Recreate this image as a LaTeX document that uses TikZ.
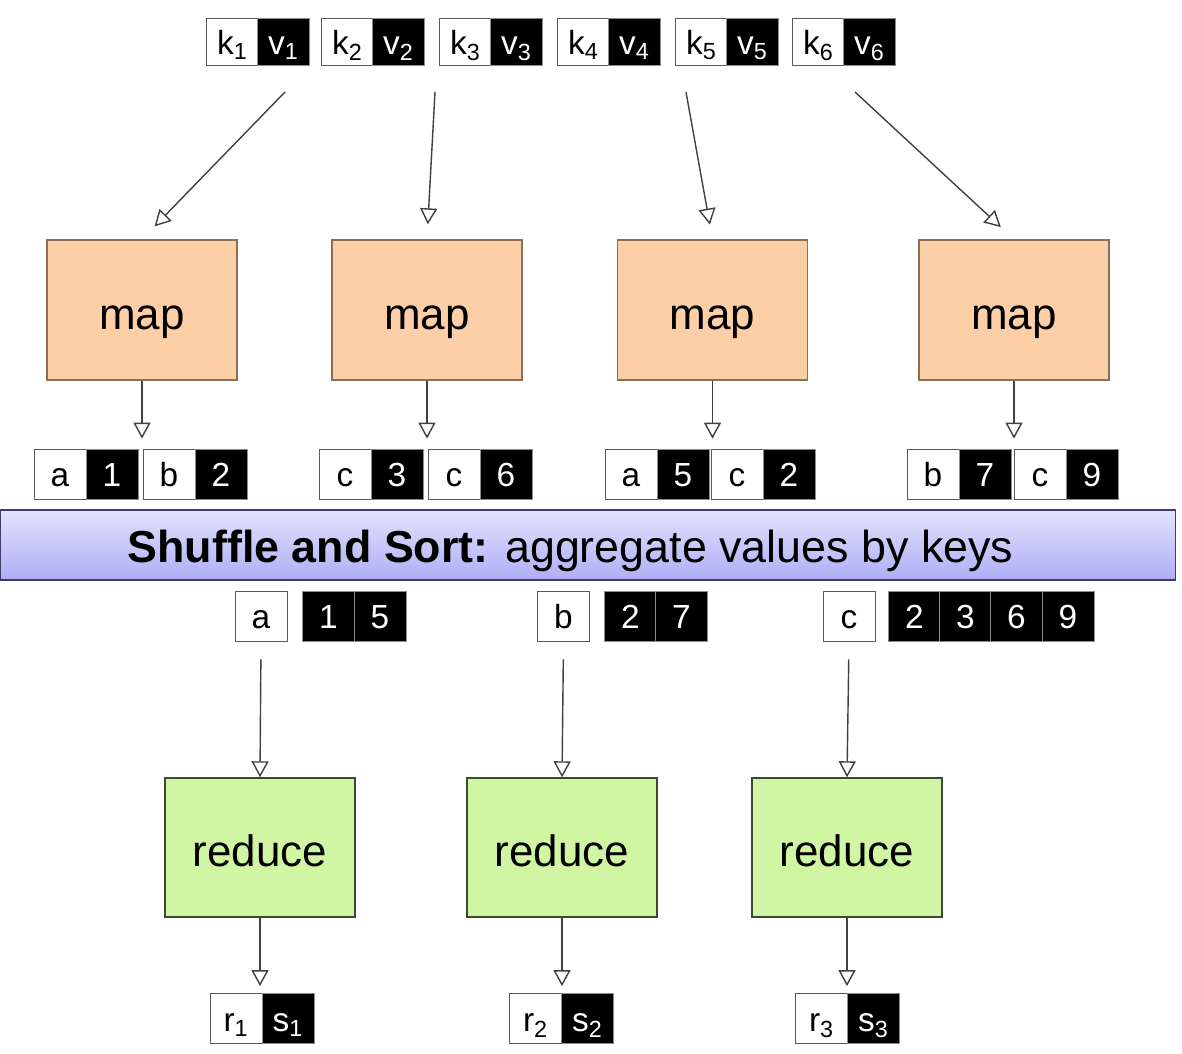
\documentclass[tikz,border=0pt]{standalone}
\usepackage{fontspec}
\setmainfont{Liberation Sans}
\usetikzlibrary{arrows.meta}

\definecolor{mapfill}{HTML}{FCCFA6}
\definecolor{mapline}{HTML}{8C6E58}
\definecolor{redfill}{HTML}{D0F6A4}
\definecolor{redline}{HTML}{3C4A30}
\definecolor{bandtop}{HTML}{E2E2FD}
\definecolor{bandbot}{HTML}{AEAEF6}
\definecolor{bandline}{HTML}{3E3E6A}

\begin{document}
\begin{tikzpicture}[scale=1,
  keycell/.style={draw=black!65,fill=white,minimum width=1.04cm,minimum height=1cm,
    inner sep=0pt,text height=14.4pt,text depth=0pt,font=\fontsize{19}{20}\selectfont},
  valcell/.style={keycell,fill=black,text=white,draw=black!45},
  mapbox/.style={draw=mapline,fill=mapfill,line width=0.8pt,minimum width=3.8cm,
    minimum height=2.8cm,text height=22pt,text depth=0pt,font=\fontsize{25}{28}\selectfont},
  redbox/.style={mapbox,draw=redline,fill=redfill,minimum height=2.78cm},
  flow/.style={draw=black!75,line width=0.8pt,
    -{Triangle[open,length=0.32cm,width=0.34cm]}}]
  \useasboundingbox (0,0) rectangle (23.64,21.06);
  % input pairs
  \node[keycell,minimum height=0.94cm] (k1) at (4.65,20.23) {k\textsubscript{1}};
  \node[valcell,minimum height=0.94cm] (v1) at (5.67,20.23) {v\textsubscript{1}};
  \node[keycell,minimum height=0.94cm] (k2) at (6.95,20.23) {k\textsubscript{2}};
  \node[valcell,minimum height=0.94cm] (v2) at (7.97,20.23) {v\textsubscript{2}};
  \node[keycell,minimum height=0.94cm] (k3) at (9.31,20.23) {k\textsubscript{3}};
  \node[valcell,minimum height=0.94cm] (v3) at (10.33,20.23) {v\textsubscript{3}};
  \node[keycell,minimum height=0.94cm] (k4) at (11.67,20.23) {k\textsubscript{4}};
  \node[valcell,minimum height=0.94cm] (v4) at (12.69,20.23) {v\textsubscript{4}};
  \node[keycell,minimum height=0.94cm] (k5) at (14.03,20.23) {k\textsubscript{5}};
  \node[valcell,minimum height=0.94cm] (v5) at (15.05,20.23) {v\textsubscript{5}};
  \node[keycell,minimum height=0.94cm] (k6) at (16.37,20.23) {k\textsubscript{6}};
  \node[valcell,minimum height=0.94cm] (v6) at (17.39,20.23) {v\textsubscript{6}};
  \coordinate (in1) at (5.70,19.22);
  \coordinate (in2) at (8.70,19.22);
  \coordinate (in3) at (13.72,19.22);
  \coordinate (in4) at (17.10,19.22);
  % mappers
  \node[mapbox] (MAP1) at (2.84,14.86) {map};
  \node[mapbox] (MAP2) at (8.54,14.86) {map};
  \node[mapbox] (MAP3) at (14.25,14.86) {map};
  \node[mapbox] (MAP4) at (20.28,14.86) {map};
  \draw[flow,shorten >=0.36cm] (in1) -- (MAP1.north);
  \draw[flow,shorten >=0.3cm]  (in2) -- (MAP2.north);
  \draw[flow,shorten >=0.3cm]  (in3) -- (MAP3.north);
  \draw[flow,shorten >=0.36cm] (in4) -- (MAP4.north);
  % intermediate pairs
  \node[keycell] (o1k) at (1.20,11.58) {a};
  \node[valcell] (o1v) at (2.24,11.58) {1};
  \node[keycell] (o2k) at (3.38,11.58) {b};
  \node[valcell] (o2v) at (4.42,11.58) {2};
  \node[keycell] (o3k) at (6.90,11.58) {c};
  \node[valcell] (o3v) at (7.94,11.58) {3};
  \node[keycell] (o4k) at (9.08,11.58) {c};
  \node[valcell] (o4v) at (10.12,11.58) {6};
  \node[keycell] (o5k) at (12.62,11.58) {a};
  \node[valcell] (o5v) at (13.66,11.58) {5};
  \node[keycell] (o6k) at (14.74,11.58) {c};
  \node[valcell] (o6v) at (15.78,11.58) {2};
  \node[keycell] (o7k) at (18.66,11.58) {b};
  \node[valcell] (o7v) at (19.70,11.58) {7};
  \node[keycell] (o8k) at (20.80,11.58) {c};
  \node[valcell] (o8v) at (21.84,11.58) {9};
  \draw[flow,shorten >=0.2cm] (MAP1.south) -- (MAP1.south |- o1k.north);
  \draw[flow,shorten >=0.2cm] (MAP2.south) -- (MAP2.south |- o3k.north);
  \draw[flow,shorten >=0.2cm] (MAP3.south) -- (MAP3.south |- o5k.north);
  \draw[flow,shorten >=0.2cm] (MAP4.south) -- (MAP4.south |- o7k.north);
  % shuffle band
  \node[draw=bandline,line width=1pt,top color=bandtop,bottom color=bandbot,
    minimum width=23.5cm,minimum height=1.4cm,text height=20pt,text depth=0pt,
    font=\fontsize{25.5}{28}\selectfont]
    (SHUF) at (11.76,10.16) {\textbf{Shuffle and Sort:} aggregate values by keys\hspace*{0.7cm}};
  % grouped values
  \node[keycell] (ga)  at (5.22,8.74) {a};
  \node[valcell] (ga1) at (6.57,8.74) {1};
  \node[valcell] (ga5) at (7.60,8.74) {5};
  \node[keycell] (gb)  at (11.27,8.74) {b};
  \node[valcell] (gb2) at (12.61,8.74) {2};
  \node[valcell] (gb7) at (13.63,8.74) {7};
  \node[keycell] (gc)  at (16.98,8.74) {c};
  \node[valcell] (gc2) at (18.29,8.74) {2};
  \node[valcell] (gc3) at (19.31,8.74) {3};
  \node[valcell] (gc6) at (20.33,8.74) {6};
  \node[valcell] (gc9) at (21.36,8.74) {9};
  % reducers
  \node[redbox] (RED1) at (5.20,4.11) {reduce};
  \node[redbox] (RED2) at (11.24,4.11) {reduce};
  \node[redbox] (RED3) at (16.94,4.11) {reduce};
  \draw[flow,shorten <=0.36cm] (ga.south) -- (RED1.north);
  \draw[flow,shorten <=0.36cm] (gb.south) -- (RED2.north);
  \draw[flow,shorten <=0.36cm] (gc.south) -- (RED3.north);
  % outputs
  \node[keycell] (r1) at (4.72,0.69) {r\textsubscript{1}};
  \node[valcell] (s1) at (5.76,0.69) {s\textsubscript{1}};
  \node[keycell] (r2) at (10.71,0.69) {r\textsubscript{2}};
  \node[valcell] (s2) at (11.75,0.69) {s\textsubscript{2}};
  \node[keycell] (r3) at (16.43,0.69) {r\textsubscript{3}};
  \node[valcell] (s3) at (17.47,0.69) {s\textsubscript{3}};
  \draw[flow,shorten >=0.14cm] (RED1.south) -- (RED1.south |- r1.north);
  \draw[flow,shorten >=0.14cm] (RED2.south) -- (RED2.south |- r2.north);
  \draw[flow,shorten >=0.14cm] (RED3.south) -- (RED3.south |- r3.north);
\end{tikzpicture}
\end{document}
